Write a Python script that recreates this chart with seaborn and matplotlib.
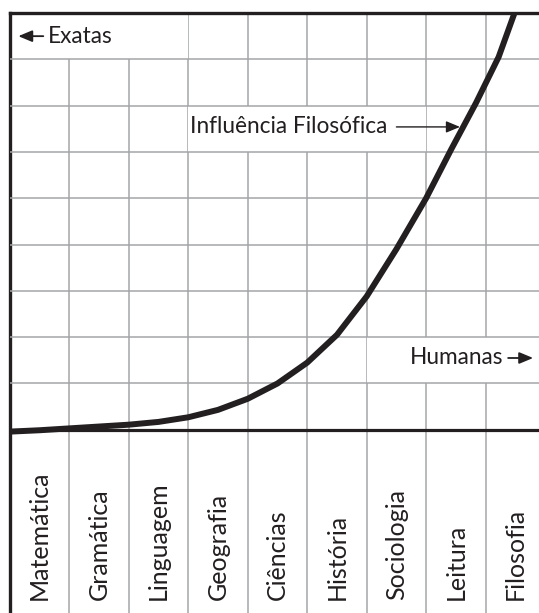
import matplotlib
matplotlib.use("Agg")
import matplotlib.pyplot as plt
import pandas as pd
import seaborn as sns
from matplotlib.patches import Rectangle

# disciplinas no eixo horizontal
subjects = [
    "Matemática", "Gramática", "Linguagem", "Geografia", "Ciências",
    "História", "Sociologia", "Leitura", "Filosofia",
]

# curva "Influência Filosófica" (x em colunas, y em linhas da grade)
curve_x = [0.0, 0.5, 1.0, 1.5, 2.0, 2.5, 3.0, 3.5, 4.0, 4.5, 5.0, 5.5,
           6.0, 6.5, 7.0, 7.42, 7.84, 8.22, 8.49]
curve_y = [-0.04, -0.01, 0.03, 0.07, 0.11, 0.17, 0.27, 0.43, 0.67, 1.0, 1.45, 2.05,
           2.88, 3.9, 5.0, 6.05, 7.06, 8.05, 9.01]

TEXT = "#231f20"
GRID = "#a3a5a8"


def main() -> None:
    sns.set_style("white")
    plt.rcParams["font.family"] = ["Lato", "DejaVu Sans"]

    fig = plt.figure(figsize=(5.39, 6.13), dpi=100)
    ax = fig.add_axes([10 / 539, -2 / 613, 535 / 539, 602 / 613])
    ax.set_xlim(0, 9)
    ax.set_ylim(-4, 9)

    n_cols = len(subjects)
    # grade
    ax.vlines(range(1, n_cols), -4, 9, color=GRID, lw=1.1, zorder=1)
    ax.hlines(range(1, 9), 0, n_cols, color=GRID, lw=1.1, zorder=3)
    ax.axhline(0, color=TEXT, lw=2.3, zorder=4)

    # caixas brancas sob os rótulos
    for x0, y0, w in [(0, 8, 3), (3, 6, 4), (6, 1, 3)]:
        ax.add_patch(Rectangle((x0, y0), w, 1, facecolor="white",
                               edgecolor="none", zorder=2))

    df = pd.DataFrame({"x": curve_x, "y": curve_y})
    sns.lineplot(data=df, x="x", y="y", ax=ax, color=TEXT, lw=4.3,
                 sort=False, zorder=5, solid_capstyle="butt",
                 solid_joinstyle="round")

    for i, name in enumerate(subjects):
        ax.text(i + 0.5, -3.68, name, rotation=90, ha="center", va="bottom",
                fontsize=18, color=TEXT)

    arrow = dict(arrowstyle="-|>,head_length=0.6,head_width=0.25", color=TEXT,
                 lw=1.3, mutation_scale=14, shrinkA=0, shrinkB=0)
    ax.annotate("", xy=(0.14, 8.5), xytext=(0.56, 8.5), arrowprops=arrow, zorder=6)
    ax.text(0.64, 8.5, "Exatas", ha="left", va="center", fontsize=16.3,
            color=TEXT, zorder=6)

    ax.text(3.03, 6.54, "Influência Filosófica", ha="left", va="center",
            fontsize=16.3, color=TEXT, zorder=6)
    thin = dict(arrow, lw=1.0)
    ax.annotate("", xy=(7.57, 6.54), xytext=(6.5, 6.54), arrowprops=thin, zorder=6)

    ax.text(6.73, 1.55, "Humanas", ha="left", va="center", fontsize=16.3,
            color=TEXT, zorder=6)
    ax.annotate("", xy=(8.8, 1.55), xytext=(8.38, 1.55), arrowprops=arrow, zorder=6)

    ax.set_xlabel("")
    ax.set_ylabel("")
    ax.set_xticks([])
    ax.set_yticks([])
    for side in ["left", "top"]:
        ax.spines[side].set_color(TEXT)
        ax.spines[side].set_linewidth(2.4)
    for side in ["right", "bottom"]:
        ax.spines[side].set_visible(False)

    fig.savefig("out.png", dpi=100)
    plt.close(fig)


if __name__ == "__main__":
    main()
